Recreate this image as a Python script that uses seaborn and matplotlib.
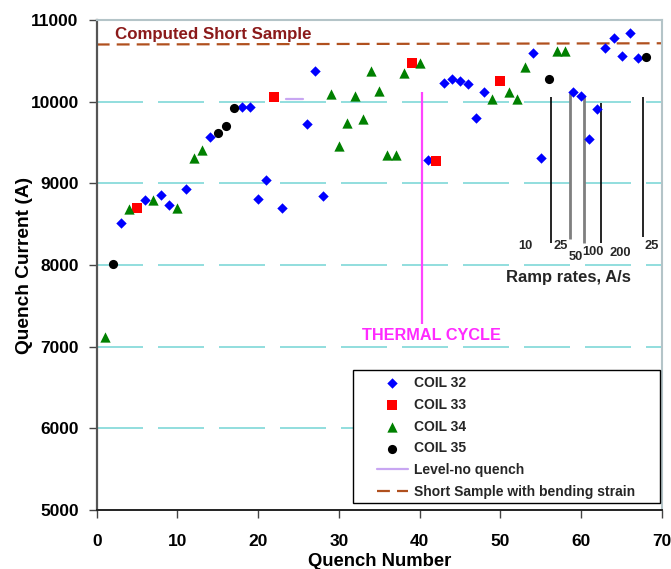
import matplotlib
matplotlib.use("Agg")
import matplotlib.pyplot as plt
import seaborn as sns
from matplotlib.patches import Rectangle

# ---------------- data ----------------
coil32_x = [3, 6, 8, 9, 11, 14, 18, 19, 20, 21, 23, 26, 27, 28, 41, 43, 44, 45, 46, 47, 48,
            54, 55, 59, 60, 61, 62, 63, 64, 65, 66, 67]
coil32_y = [8511, 8793, 8854, 8733, 8934, 9569, 9932, 9937, 8813, 9045, 8692, 9725, 10375, 8844,
            9287, 10224, 10280, 10259, 10219, 9796, 10113, 10592, 9307, 10113, 10066, 9539, 9907,
            10652, 10778, 10562, 10839, 10531]

coil33_x = [5, 22, 39, 42, 50]
coil33_y = [8692, 10063, 10476, 9277, 10254]

coil34_x = [1, 4, 7, 10, 12, 13, 29, 30, 31, 32, 33, 34, 35, 36, 37, 38, 40, 49, 51, 52, 53, 57, 58]
coil34_y = [7120, 8682, 8793, 8702, 9307, 9408, 10093, 9458, 9740, 10073, 9791, 10375, 10128,
            9352, 9352, 10350, 10471, 10038, 10123, 10028, 10426, 10617, 10617]

coil35_x = [2, 15, 16, 17, 56, 68]
coil35_y = [8012, 9619, 9705, 9917, 10274, 10541]

level_x = [23.5, 25.6]
level_y = [10032, 10032]

short_x = [0, 70]
short_y = [10700, 10715]

thermal_x = 40.3
thermal_top = 10113
thermal_bottom = 7280

ramp_x = [56.3, 58.6, 60.3, 62.5, 67.6]
ramp_top = [10053, 10108, 10068, 9987, 10053]
ramp_bottom = [8273, 8324, 8273, 8273, 8340]
ramp_colors = ["black", "#7f7f7f", "#7f7f7f", "black", "black"]

ramp_labels = ["10", "25", "50", "100", "200", "25"]
ramp_label_x = [53.1, 57.45, 59.3, 61.4, 64.8, 68.7]
ramp_label_y = [8229, 8233, 8102, 8155, 8148, 8233]

x_ticks = [0, 10, 20, 30, 40, 50, 60, 70]
y_ticks = [5000, 6000, 7000, 8000, 9000, 10000, 11000]

# ---------------- style ----------------
sns.set_style("white")
plt.rcParams["font.family"] = ["Liberation Sans", "DejaVu Sans"]
plt.rcParams["font.weight"] = "bold"

fig = plt.figure(figsize=(6.71, 5.69), dpi=100)
ax = fig.add_axes([96.7 / 671, 1 - 510 / 569, (662 - 96.7) / 671, 490 / 569])

# gridlines
for yv in y_ticks[1:-1]:
    ax.axhline(yv, color="#7fd8d8", lw=1.2, linestyle=(0, (27.6, 9)), zorder=0)

# short sample line
sns.lineplot(x=short_x, y=short_y, ax=ax, color="#b0501e", lw=1.6,
             linestyle=(0, (5.8, 3.2)), label="Short Sample with bending strain", zorder=2)

# level-no quench
sns.lineplot(x=level_x, y=level_y, ax=ax, color="#c8a6f2", lw=1.6,
             label="Level-no quench", zorder=2)

# thermal cycle line
ax.vlines([thermal_x], [thermal_bottom], [thermal_top], color="#ff44ff", lw=1.6, zorder=2)

# ramp rate lines
ax.vlines(ramp_x, ramp_bottom, ramp_top, colors=ramp_colors,
          linewidths=[1.2, 2.0, 2.0, 1.2, 1.2], zorder=2)

sns.scatterplot(x=coil32_x, y=coil32_y, ax=ax, marker="D", s=5.3**2, color="#0000ff",
                linewidth=0, label="COIL 32", zorder=3)
sns.scatterplot(x=coil33_x, y=coil33_y, ax=ax, marker="s", s=6.6**2, color="#ff0000",
                linewidth=0, label="COIL 33", zorder=3)
sns.scatterplot(x=coil34_x, y=coil34_y, ax=ax, marker="^", s=7.4**2, color="#008000",
                linewidth=0, label="COIL 34", zorder=3)
sns.scatterplot(x=coil35_x, y=coil35_y, ax=ax, marker="o", s=6.6**2, color="black",
                linewidth=0, label="COIL 35", zorder=3)

# texts
ax.text(2.27, 10820, "Computed Short Sample", color="#8b1a1a", fontsize=12.2, fontweight="bold",
        va="center", ha="left")
ax.text(41.5, 7131, "THERMAL CYCLE", color="#ff2aff", fontsize=11.7, fontweight="bold",
        va="center", ha="center")
for lx, ly, lt in zip(ramp_label_x, ramp_label_y, ramp_labels):
    ax.text(lx, ly, lt, fontsize=9.3, fontweight="bold", ha="center", va="center")
ax.text(58.4, 7849, "Ramp rates, A/s", fontsize=12, fontweight="bold", ha="center", va="center")

# axes
ax.set_xlim(0, 70)
ax.set_ylim(5000, 11000)
ax.set_xticks(x_ticks)
ax.set_yticks(y_ticks)
ax.tick_params(axis="both", direction="out", length=6, width=1, labelsize=12.5,
               color="#444444", labelcolor="black", left=True, bottom=True)
ax.tick_params(axis="x", pad=11)
ax.tick_params(axis="y", pad=7)
for lab in ax.get_xticklabels() + ax.get_yticklabels():
    lab.set_fontweight("bold")
ax.set_xlabel("Quench Number", fontsize=13.3, fontweight="bold", labelpad=3, color="black")
ax.set_ylabel("Quench Current (A)", fontsize=13.8, fontweight="bold", labelpad=-2, color="black")

ax.spines["left"].set_color("#555555")
ax.spines["left"].set_linewidth(1.6)
ax.spines["bottom"].set_color("#222222")
ax.spines["bottom"].set_linewidth(1.4)
for side in ["top", "right"]:
    ax.spines[side].set_color("#b4c4c8")
    ax.spines[side].set_linewidth(1.5)

# legend frame drawn as a rectangle in figure coordinates
frame = Rectangle((353 / 671, 1 - 503 / 569), (660 - 353) / 671, (503 - 370) / 569,
                  transform=fig.transFigure, facecolor="white", edgecolor="black",
                  lw=1.0, zorder=4.9, clip_on=False)
ax.add_patch(frame)

handles, labels = ax.get_legend_handles_labels()
order = ["COIL 32", "COIL 33", "COIL 34", "COIL 35", "Level-no quench",
         "Short Sample with bending strain"]
hmap = dict(zip(labels, handles))
leg = ax.legend([hmap[o] for o in order], order, loc="upper left",
                bbox_to_anchor=(377 / 671, 1 - 376 / 569), bbox_transform=fig.transFigure,
                borderaxespad=0, borderpad=0, prop={"weight": "bold", "size": 10},
                frameon=False, labelspacing=0.56, handlelength=2.2, handletextpad=0.45)
leg.set_zorder(5)

fig.savefig("out.png", dpi=100)
